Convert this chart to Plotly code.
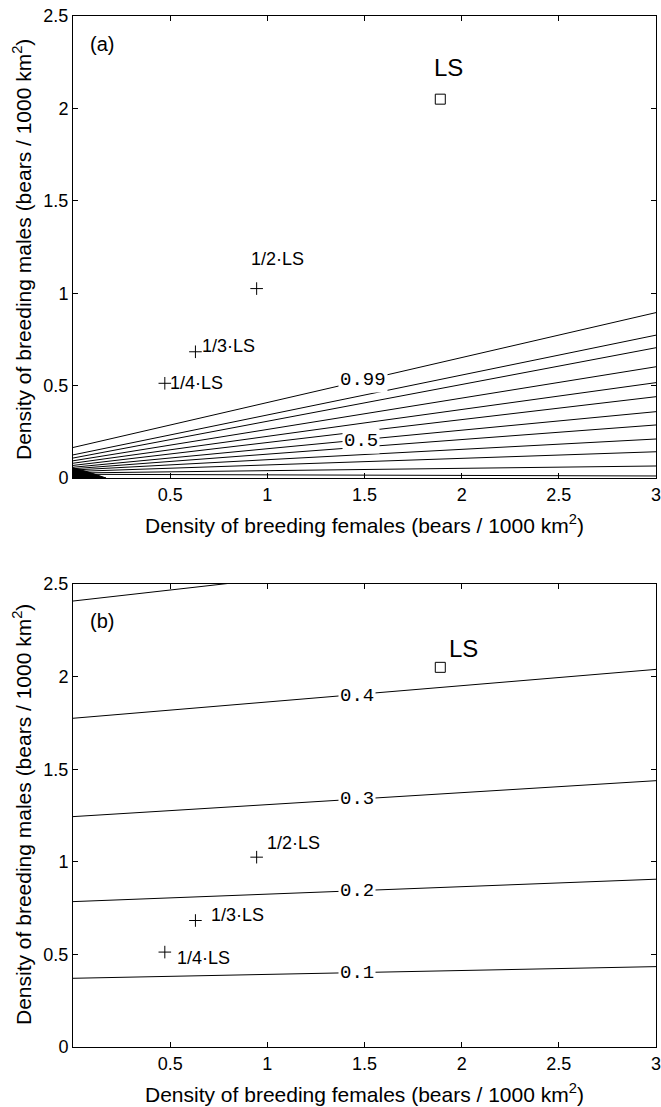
import plotly.graph_objects as go

# ---------------- data ----------------
# Panel (a): contour lines (level, y at x=0, y at x=3)
a_levels = ["0.99", "0.95", "0.9", "0.8", "0.7", "0.6", "0.5", "0.4", "0.3", "0.2", "0.1", "0.05"]
a_y_at_x0 = [0.165, 0.125, 0.108, 0.093, 0.080, 0.068, 0.058, 0.050, 0.043, 0.035, 0.027, 0.020]
a_y_at_x3 = [0.895, 0.773, 0.705, 0.602, 0.516, 0.440, 0.359, 0.287, 0.211, 0.142, 0.065, 0.011]
line_x_ends = [0, 3]
a_label_text = ["0.99", "0.5"]
a_label_x = [1.49, 1.48]
a_label_y = [0.53, 0.20]
# dense convergence of contours in the lower-left corner of (a)
corner_x = [0, 0, 0.08, 0.17, 0]
corner_y = [0, 0.055, 0.032, 0, 0]

# Panel (b): contour lines
b_levels = ["0.1", "0.2", "0.3", "0.4", "0.5"]
b_y_at_x0 = [0.371, 0.785, 1.244, 1.775, 2.408]
b_y_at_x3 = [0.434, 0.906, 1.438, 2.039, 2.765]
b_label_text = ["0.1", "0.2", "0.3", "0.4"]
b_label_x = [1.46, 1.46, 1.46, 1.46]
b_label_y = [0.402, 0.844, 1.338, 1.893]

# Population points
pt_names = ["LS", "1/2\u00b7LS", "1/3\u00b7LS", "1/4\u00b7LS"]
pt_x = [1.89, 0.945, 0.63, 0.4725]
pt_y = [2.05, 1.025, 0.683, 0.5125]

# label placements
a_txt_x = [1.93, 1.05, 0.654, 0.489]
a_txt_y = [2.22, 1.185, 0.714, 0.514]
a_txt_anchor = ["center", "center", "left", "left"]
b_txt_x = [2.007, 0.988, 0.70, 0.525]
b_txt_y = [2.154, 1.10, 0.713, 0.48]
b_txt_anchor = ["center", "left", "left", "left"]

x_ticks = [0.5, 1, 1.5, 2, 2.5, 3]
y_ticks = [0, 0.5, 1, 1.5, 2, 2.5]

W, H = 661, 1107
TXT = "Liberation Sans, Arial, sans-serif"
MONO = "Liberation Mono, Courier New, monospace"

fig = go.Figure()

# panel (a) lines
for lev, y0, y3 in zip(a_levels, a_y_at_x0, a_y_at_x3):
    fig.add_trace(go.Scatter(x=line_x_ends, y=[y0, y3], mode="lines",
                             line=dict(color="black", width=1), name=lev,
                             xaxis="x", yaxis="y", hoverinfo="skip"))
fig.add_trace(go.Scatter(x=corner_x, y=corner_y, mode="lines", fill="toself",
                         fillcolor="black", line=dict(color="black", width=1),
                         xaxis="x", yaxis="y", hoverinfo="skip"))
# panel (b) lines
for lev, y0, y3 in zip(b_levels, b_y_at_x0, b_y_at_x3):
    fig.add_trace(go.Scatter(x=line_x_ends, y=[y0, y3], mode="lines",
                             line=dict(color="black", width=1), name=lev,
                             xaxis="x2", yaxis="y2", hoverinfo="skip"))

# points
for xa, ya in [("x", "y"), ("x2", "y2")]:
    fig.add_trace(go.Scatter(x=pt_x[:1], y=pt_y[:1], mode="markers",
                             marker=dict(symbol="square-open", size=10, color="black",
                                         line=dict(width=1, color="black")),
                             xaxis=xa, yaxis=ya, hoverinfo="skip"))
    fig.add_trace(go.Scatter(x=pt_x[1:], y=pt_y[1:], mode="markers",
                             marker=dict(symbol="cross-thin-open", size=9, color="black",
                                         line=dict(width=1, color="black")),
                             xaxis=xa, yaxis=ya, hoverinfo="skip"))

ann = []
# contour labels
for t, x, y in zip(a_label_text, a_label_x, a_label_y):
    ann.append(dict(x=x, y=y, xref="x", yref="y", text=t, showarrow=False,
                    bgcolor="white", borderpad=1,
                    font=dict(family=MONO, size=19, color="black")))
for t, x, y in zip(b_label_text, b_label_x, b_label_y):
    ann.append(dict(x=x, y=y, xref="x2", yref="y2", text=t, showarrow=False,
                    bgcolor="white", borderpad=1,
                    font=dict(family=MONO, size=19, color="black")))
# point labels
for i, (t, x, y, an) in enumerate(zip(pt_names, a_txt_x, a_txt_y, a_txt_anchor)):
    ann.append(dict(x=x, y=y, xref="x", yref="y", text=t, showarrow=False,
                    xanchor=an, yanchor="middle",
                    font=dict(family=TXT, size=24 if i == 0 else 18, color="black")))
for i, (t, x, y, an) in enumerate(zip(pt_names, b_txt_x, b_txt_y, b_txt_anchor)):
    ann.append(dict(x=x, y=y, xref="x2", yref="y2", text=t, showarrow=False,
                    xanchor=an, yanchor="middle",
                    font=dict(family=TXT, size=24 if i == 0 else 18, color="black")))
# panel tags
ann.append(dict(x=0.077, y=2.35, xref="x", yref="y", text="(a)", showarrow=False,
                xanchor="left", yanchor="middle", font=dict(family=TXT, size=20, color="black")))
ann.append(dict(x=0.077, y=2.30, xref="x2", yref="y2", text="(b)", showarrow=False,
                xanchor="left", yanchor="middle", font=dict(family=TXT, size=20, color="black")))

# axis titles
xt = "Density of breeding females (bears / 1000 km<sup>2</sup>)"
yt = "Density of breeding males (bears / 1000 km<sup>2</sup>)"
for ycen in [524, 1093]:
    ann.append(dict(x=364.5 / W, y=1 - ycen / H, xref="paper", yref="paper", text=xt,
                    showarrow=False, xanchor="center", yanchor="middle",
                    font=dict(family=TXT, size=21, color="black")))
for ycen in [250, 815]:
    ann.append(dict(x=22 / W, y=1 - ycen / H, xref="paper", yref="paper", text=yt,
                    showarrow=False, textangle=-90, xanchor="center", yanchor="middle",
                    font=dict(family=TXT, size=21, color="black")))

axis_common = dict(showline=True, linecolor="black", linewidth=1, mirror="ticks",
                   ticks="inside", ticklen=5, tickcolor="black", tickwidth=1,
                   showgrid=False, zeroline=False, ticklabeloverflow="allow",
                   automargin=False,
                   tickfont=dict(family=TXT, size=18, color="black"))

x0d, x1d = 73 / W, 656 / W
fig.update_layout(
    width=W, height=H, margin=dict(l=0, r=0, t=0, b=0),
    paper_bgcolor="white", plot_bgcolor="white", showlegend=False,
    xaxis=dict(domain=[x0d, x1d], range=[0, 3], tickvals=x_ticks,
               ticktext=[f"{v:g}" for v in x_ticks], anchor="y", **axis_common),
    yaxis=dict(domain=[1 - 478 / H, 1 - 16 / H], range=[0, 2.5], tickvals=y_ticks,
               ticktext=[f"{v:g}" for v in y_ticks], anchor="x", **axis_common),
    xaxis2=dict(domain=[x0d, x1d], range=[0, 3], tickvals=x_ticks,
                ticktext=[f"{v:g}" for v in x_ticks], anchor="y2", **axis_common),
    yaxis2=dict(domain=[1 - 1047 / H, 1 - 584 / H], range=[0, 2.5], tickvals=y_ticks,
                ticktext=[f"{v:g}" for v in y_ticks], anchor="x2", **axis_common),
    annotations=ann,
)

fig.write_html("out.html")
